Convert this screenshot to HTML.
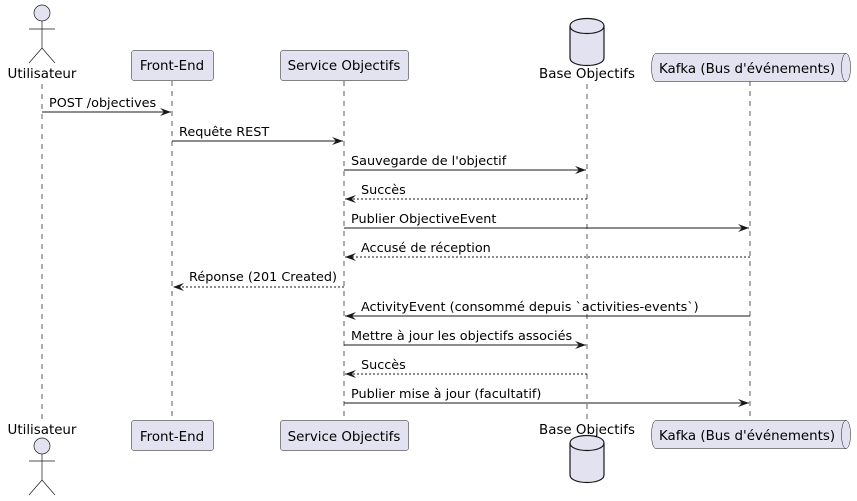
<!DOCTYPE html>
<html><head><meta charset="utf-8"><style>
html,body{margin:0;padding:0;background:#fff;}
svg{display:block;}
text{font-family:"DejaVu Sans","Liberation Sans",sans-serif;fill:#000;}
</style></head><body>
<svg width="857" height="501" viewBox="0 0 857 501" xmlns="http://www.w3.org/2000/svg">
<defs>
<marker id="a" markerWidth="12" markerHeight="10" refX="11" refY="5" orient="auto" markerUnits="userSpaceOnUse">
<path d="M0,1 L11,5 L0,9 L4,5 Z" fill="#181818"/>
</marker>
</defs>
<g stroke="#181818" stroke-width="0.7" stroke-dasharray="5,5">
<line x1="42" y1="84" x2="42" y2="420"/>
<line x1="172" y1="81" x2="172" y2="420"/>
<line x1="344" y1="81" x2="344" y2="420"/>
<line x1="587" y1="84" x2="587" y2="420"/>
<line x1="750" y1="81" x2="750" y2="420"/>
</g>
<g stroke="#181818" stroke-width="0.7" fill="#E2E2F0">
<circle cx="42" cy="13" r="8"/>
<line x1="42" y1="21" x2="42" y2="48"/>
<line x1="29" y1="29" x2="55" y2="29"/>
<line x1="42" y1="48" x2="29" y2="63"/>
<line x1="42" y1="48" x2="55" y2="63"/>
</g>
<text x="42" y="78" font-size="13.4" text-anchor="middle">Utilisateur</text>
<text x="42" y="434" font-size="13.4" text-anchor="middle">Utilisateur</text>
<g stroke="#181818" stroke-width="0.7" fill="#E2E2F0">
<circle cx="42" cy="446" r="8"/>
<line x1="42" y1="454" x2="42" y2="480"/>
<line x1="29" y1="461" x2="55" y2="461"/>
<line x1="42" y1="480" x2="29" y2="495"/>
<line x1="42" y1="480" x2="55" y2="495"/>
</g>
<g fill="#E2E2F0" stroke="#181818" stroke-width="0.5">
<rect x="131.5" y="50.5" width="82" height="30" rx="2.5"/>
<rect x="280.5" y="50.5" width="128" height="30" rx="2.5"/>
<rect x="131.5" y="420.5" width="82" height="30" rx="2.5"/>
<rect x="280.5" y="420.5" width="128" height="30" rx="2.5"/>
</g>
<g font-size="13.4" text-anchor="middle">
<text x="172" y="70">Front-End</text>
<text x="344" y="70">Service Objectifs</text>
<text x="172" y="441">Front-End</text>
<text x="344" y="441">Service Objectifs</text>
</g>
<g fill="#E2E2F0" stroke="#181818" stroke-width="1.2">
<path d="M570,26 C570,16 604,16 604,26 L604,58 C604,68 570,68 570,58 Z"/>
<path d="M570,26 C570,36 604,36 604,26" fill="none"/>
<path d="M570,443 C570,433 604,433 604,443 L604,475 C604,485 570,485 570,475 Z"/>
<path d="M570,443 C570,453 604,453 604,443" fill="none"/>
</g>
<text x="587" y="78" font-size="13.4" text-anchor="middle">Base Objectifs</text>
<text x="587" y="434" font-size="13.4" text-anchor="middle">Base Objectifs</text>
<g fill="#E2E2F0" stroke="#181818" stroke-width="0.5">
<path d="M656,53.5 L846,53.5 C852,53.5 852,81.5 846,81.5 L656,81.5 C650,81.5 650,53.5 656,53.5 Z"/>
<path d="M846,53.5 C840,53.5 840,81.5 846,81.5" fill="none"/>
<path d="M656,420.5 L846,420.5 C852,420.5 852,448.5 846,448.5 L656,448.5 C650,448.5 650,420.5 656,420.5 Z"/>
<path d="M846,420.5 C840,420.5 840,448.5 846,448.5" fill="none"/>
</g>
<text x="747" y="73" font-size="13.4" text-anchor="middle">Kafka (Bus d'événements)</text>
<text x="747" y="440" font-size="13.4" text-anchor="middle">Kafka (Bus d'événements)</text>
<g stroke="#181818" stroke-width="1" marker-end="url(#a)">
<line x1="42" y1="112" x2="171" y2="112"/>
<line x1="172" y1="141" x2="343" y2="141"/>
<line x1="344" y1="170" x2="586" y2="170"/>
<line x1="587" y1="199" x2="345" y2="199" stroke-dasharray="2,2"/>
<line x1="344" y1="228" x2="749" y2="228"/>
<line x1="750" y1="257" x2="345" y2="257" stroke-dasharray="2,2"/>
<line x1="344" y1="287" x2="173" y2="287" stroke-dasharray="2,2"/>
<line x1="750" y1="316" x2="345" y2="316"/>
<line x1="344" y1="345" x2="586" y2="345"/>
<line x1="587" y1="374" x2="345" y2="374" stroke-dasharray="2,2"/>
<line x1="344" y1="403" x2="749" y2="403"/>
</g>
<g font-size="12.8">
<text x="49" y="107">POST /objectives</text>
<text x="179" y="136">Requête REST</text>
<text x="351" y="165">Sauvegarde de l'objectif</text>
<text x="361" y="194">Succès</text>
<text x="351" y="223">Publier ObjectiveEvent</text>
<text x="361" y="252">Accusé de réception</text>
<text x="189" y="281">Réponse (201 Created)</text>
<text x="361" y="311">ActivityEvent (consommé depuis `activities-events`)</text>
<text x="351" y="340">Mettre à jour les objectifs associés</text>
<text x="361" y="369">Succès</text>
<text x="351" y="398">Publier mise à jour (facultatif)</text>
</g>
</svg>
</body></html>
